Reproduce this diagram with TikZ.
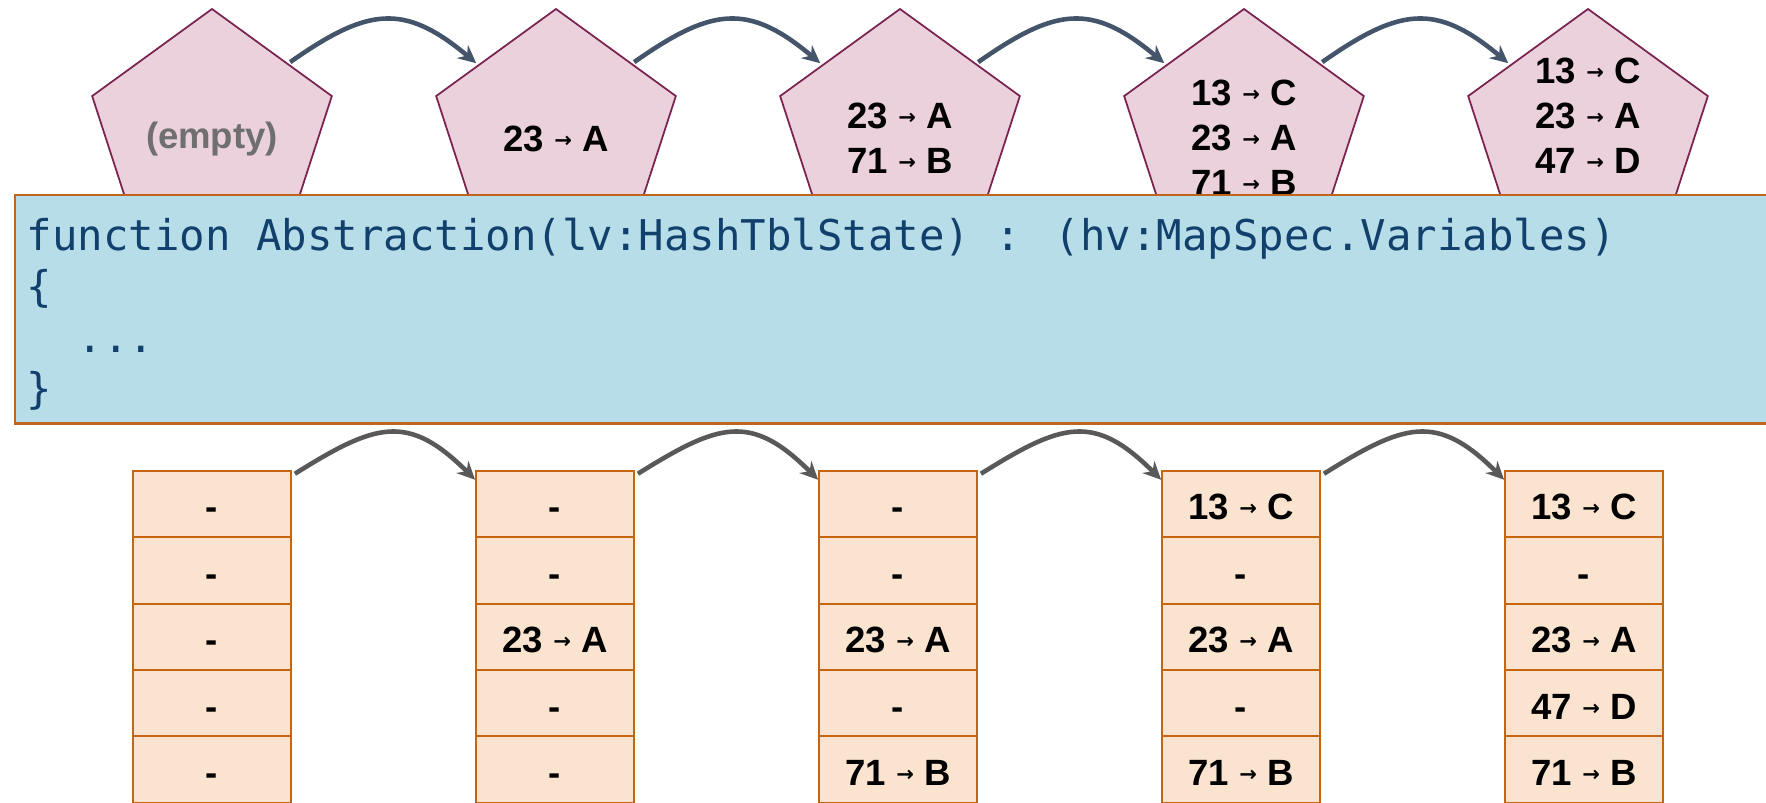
\documentclass[tikz,border=0pt]{standalone}
\usepackage{fontspec}
\setmainfont{Liberation Sans}
\newfontfamily\codefont{DejaVu Sans Mono}
\newfontfamily\arrowfont{DejaVu Sans}
\usetikzlibrary{shapes.geometric,arrows.meta}

\definecolor{absfill}{HTML}{EAD1DC}
\definecolor{absline}{HTML}{7B2350}
\definecolor{boxfill}{HTML}{B7DDE8}
\definecolor{boxline}{HTML}{C0651E}
\definecolor{codeblue}{HTML}{12406D}
\definecolor{slotfill}{HTML}{FBE4CF}
\definecolor{slotline}{HTML}{C5650F}
\definecolor{toparrow}{HTML}{44546A}
\definecolor{lowarrow}{HTML}{595959}
\definecolor{emptygray}{HTML}{6F6F6F}

% small raised arrow between key and value
\newcommand\kv{\raisebox{1.1pt}{\arrowfont\bfseries\fontsize{6}{6}\selectfont →}}

\tikzset{
  absstate/.style={regular polygon, regular polygon sides=5, minimum size=25.2mm,
    inner sep=0pt, outer sep=0.3mm, draw=absline, fill=absfill, line width=0.5pt},
  abstext/.style={align=center, inner sep=0pt, font=\fontsize{10.4}{12.8}\selectfont\bfseries},
  slot/.style={rectangle, draw=slotline, fill=slotfill, line width=0.6pt,
    minimum width=15.77mm, minimum height=6.64mm, inner sep=0pt,
    text height=9pt, text depth=0pt,
    font=\fontsize{10.4}{12.8}\selectfont\bfseries},
  codeline/.style={anchor=base west, inner sep=0pt, text=codeblue,
    font=\codefont\fontsize{12.05}{14.5}\selectfont},
  stepto/.style={line width=1.3pt, -{Stealth[length=1.8mm,width=1.7mm,inset=0.6mm]}}
}

\begin{document}
\begin{tikzpicture}[x=0.1mm, y=0.1mm]
\clip (0,0) rectangle (1766,-802);

% abstract states
\node[absstate] (s1) at (212,-135) {};
\node[absstate] (s2) at (556,-135) {};
\node[absstate] (s3) at (900,-135) {};
\node[absstate] (s4) at (1244,-135) {};
\node[absstate] (s5) at (1588,-135) {};

\node[abstext, text=emptygray] (t1) at (212,-139) {(empty)};
\node[abstext] (t2) at (556,-139) {23 \kv{} A};
\node[abstext] (t3) at (900,-138) {23 \kv{} A\\71 \kv{} B};
\node[abstext] (t4) at (1244,-138) {13 \kv{} C\\23 \kv{} A\\71 \kv{} B};
\node[abstext] (t5) at (1588,-116) {13 \kv{} C\\23 \kv{} A\\47 \kv{} D};

% abstraction function
\node[draw=boxline, fill=boxfill, line width=0.6pt, anchor=north west,
  minimum width=180mm, minimum height=22.87mm] (code) at (13.5,-193.7) {};
\node[codeline] (code1) at (26,-250) {function Abstraction(lv:HashTblState) : (hv:MapSpec.Variables)};
\node[codeline] (code2) at (26,-301) {\{};
\node[codeline] (code3) at (26,-352) {\hphantom{xx}...};
\node[codeline] (code4) at (26,-403) {\}};

% hash table states
\node[slot] (h1-1) at (212,-504) {-};
\node[slot] (h1-2) at (212,-570.4) {-};
\node[slot] (h1-3) at (212,-636.8) {-};
\node[slot] (h1-4) at (212,-703.2) {-};
\node[slot] (h1-5) at (212,-769.6) {-};

\node[slot] (h2-1) at (555,-504) {-};
\node[slot] (h2-2) at (555,-570.4) {-};
\node[slot] (h2-3) at (555,-636.8) {23 \kv{} A};
\node[slot] (h2-4) at (555,-703.2) {-};
\node[slot] (h2-5) at (555,-769.6) {-};

\node[slot] (h3-1) at (898,-504) {-};
\node[slot] (h3-2) at (898,-570.4) {-};
\node[slot] (h3-3) at (898,-636.8) {23 \kv{} A};
\node[slot] (h3-4) at (898,-703.2) {-};
\node[slot] (h3-5) at (898,-769.6) {71 \kv{} B};

\node[slot] (h4-1) at (1241,-504) {13 \kv{} C};
\node[slot] (h4-2) at (1241,-570.4) {-};
\node[slot] (h4-3) at (1241,-636.8) {23 \kv{} A};
\node[slot] (h4-4) at (1241,-703.2) {-};
\node[slot] (h4-5) at (1241,-769.6) {71 \kv{} B};

\node[slot] (h5-1) at (1584,-504) {13 \kv{} C};
\node[slot] (h5-2) at (1584,-570.4) {-};
\node[slot] (h5-3) at (1584,-636.8) {23 \kv{} A};
\node[slot] (h5-4) at (1584,-703.2) {47 \kv{} D};
\node[slot] (h5-5) at (1584,-769.6) {71 \kv{} B};

% steps
\foreach \a/\b in {s1/s2,s2/s3,s3/s4,s4/s5}
  \draw[stepto, toparrow] (\a.43) to[out=35,in=140,looseness=1.3] (\b.138);
\foreach \a/\b in {h1/h2,h2/h3,h3/h4,h4/h5}
  \draw[stepto, lowarrow] ([shift={(3,-4)}]\a-1.north east) to[out=32,in=135,looseness=1.35] ([yshift=-1mm]\b-1.north west);
\end{tikzpicture}
\end{document}
